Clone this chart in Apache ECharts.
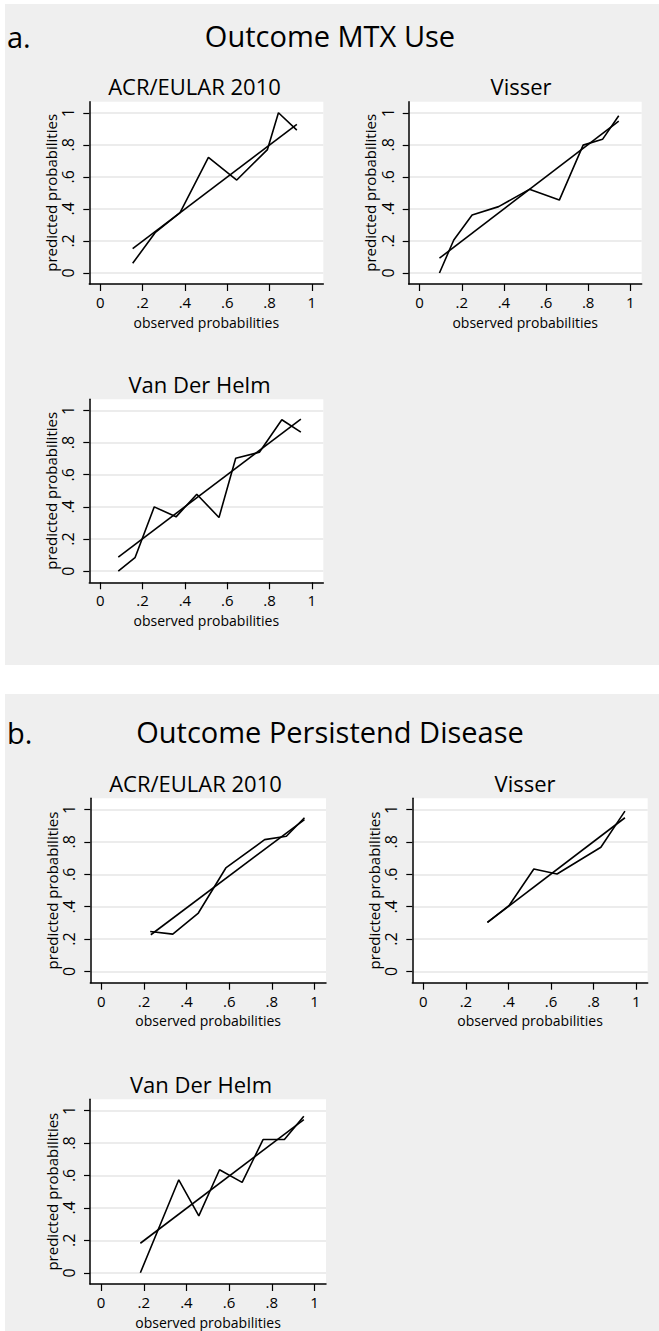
<!DOCTYPE html>
<html>
<head>
<meta charset="utf-8">
<script src="https://cdn.jsdelivr.net/npm/echarts@6/dist/echarts.min.js"></script>
<style>
  html, body { margin: 0; padding: 0; background: #ffffff; }
  #chart { width: 659px; height: 1331px; }
</style>
</head>
<body>
<div id="chart"></div>
<script>
// ---- calibration data: observed vs predicted probabilities per score ----

// Outcome MTX Use
const mtxAcrObserved   = [0.153, 0.259, 0.377, 0.511, 0.645, 0.790, 0.842, 0.929];
const mtxAcrPredicted  = [0.060, 0.251, 0.376, 0.722, 0.580, 0.770, 1.000, 0.892];
const mtxAcrFitObs     = [0.153, 0.929];
const mtxAcrFitPred    = [0.152, 0.927];

const mtxVisserObserved  = [0.094, 0.162, 0.249, 0.375, 0.521, 0.663, 0.776, 0.868, 0.945];
const mtxVisserPredicted = [0.000, 0.206, 0.362, 0.414, 0.522, 0.455, 0.798, 0.834, 0.981];
const mtxVisserFitObs    = [0.094, 0.945];
const mtxVisserFitPred   = [0.092, 0.948];

const mtxHelmObserved  = [0.085, 0.164, 0.255, 0.358, 0.456, 0.561, 0.640, 0.752, 0.858, 0.948];
const mtxHelmPredicted = [0.000, 0.084, 0.400, 0.338, 0.479, 0.334, 0.702, 0.740, 0.942, 0.865];
const mtxHelmFitObs    = [0.085, 0.948];
const mtxHelmFitPred   = [0.088, 0.946];

// Outcome Persistend Disease
const pdAcrObserved  = [0.229, 0.335, 0.455, 0.584, 0.766, 0.868, 0.953];
const pdAcrPredicted = [0.247, 0.231, 0.361, 0.639, 0.814, 0.835, 0.949];
const pdAcrFitObs    = [0.232, 0.953];
const pdAcrFitPred   = [0.227, 0.938];

const pdVisserObserved  = [0.301, 0.402, 0.519, 0.628, 0.834, 0.947];
const pdVisserPredicted = [0.303, 0.406, 0.633, 0.602, 0.767, 0.990];
const pdVisserFitObs    = [0.301, 0.947];
const pdVisserFitPred   = [0.303, 0.949];

const pdHelmObserved  = [0.184, 0.364, 0.458, 0.555, 0.661, 0.759, 0.859, 0.950];
const pdHelmPredicted = [0.000, 0.573, 0.351, 0.635, 0.557, 0.821, 0.821, 0.965];
const pdHelmFitObs    = [0.184, 0.950];
const pdHelmFitPred   = [0.182, 0.944];

// shared axis ticks and texts
const tickValues = [0, 0.2, 0.4, 0.6, 0.8, 1];
const xAxisTitle = 'observed probabilities';
const yAxisTitle = 'predicted probabilities';
const sectionLetters = ['a.', 'b.'];
const sectionTitles  = ['Outcome MTX Use', 'Outcome Persistend Disease'];
const panelTitles = ['ACR/EULAR 2010', 'Visser', 'Van Der Helm',
                     'ACR/EULAR 2010', 'Visser', 'Van Der Helm'];

const panelData = [
  [mtxAcrObserved, mtxAcrPredicted, mtxAcrFitObs, mtxAcrFitPred],
  [mtxVisserObserved, mtxVisserPredicted, mtxVisserFitObs, mtxVisserFitPred],
  [mtxHelmObserved, mtxHelmPredicted, mtxHelmFitObs, mtxHelmFitPred],
  [pdAcrObserved, pdAcrPredicted, pdAcrFitObs, pdAcrFitPred],
  [pdVisserObserved, pdVisserPredicted, pdVisserFitObs, pdVisserFitPred],
  [pdHelmObserved, pdHelmPredicted, pdHelmFitObs, pdHelmFitPred]
];

// ---- layout (pixels) ----
const FONT = '"Open Sans", "Noto Sans", sans-serif';
const gridBoxes = [
  { left: 89.3,  top: 101.7,  width: 234,   height: 182.3 },
  { left: 408.7, top: 101.7,  width: 233,   height: 182.3 },
  { left: 89.3,  top: 399.3,  width: 234,   height: 183 },
  { left: 90.3,  top: 798.3,  width: 235.7, height: 184.4 },
  { left: 412.3, top: 798.3,  width: 235.4, height: 184.4 },
  { left: 90,    top: 1099.3, width: 236,   height: 184.7 }
];
const panelTitlePos = [
  [194.5, 86], [521, 86], [199.5, 384],
  [195.5, 783], [525, 783], [201, 1084]
];
const sectionBoxes = [
  { x: 5, y: 4,   width: 654, height: 661 },
  { x: 5, y: 694, width: 654, height: 637 }
];
const sectionTitleY = [35, 731];

function tickText(v) {
  if (Math.abs(v) < 1e-9) return '0';
  if (Math.abs(v - 1) < 1e-9) return '1';
  return String(Math.round(v * 10) / 10).replace(/^0/, '');
}

const grid = [], xAxis = [], yAxis = [], series = [], graphic = [];

sectionBoxes.forEach(function (b, i) {
  graphic.push({
    type: 'rect', z: -100, silent: true,
    shape: { x: b.x, y: b.y, width: b.width, height: b.height },
    style: { fill: '#efefef' }
  });
  graphic.push({
    type: 'text', z: 10, x: 7, y: sectionTitleY[i] + 1,
    style: { text: sectionLetters[i], font: '29px ' + FONT, fill: '#000',
             textAlign: 'left', textVerticalAlign: 'middle' }
  });
  graphic.push({
    type: 'text', z: 10, x: 330, y: sectionTitleY[i],
    style: { text: sectionTitles[i], font: '29px ' + FONT, fill: '#000',
             textAlign: 'center', textVerticalAlign: 'middle' }
  });
});

gridBoxes.forEach(function (g, i) {
  grid.push({
    left: g.left, top: g.top, width: g.width, height: g.height,
    show: true, backgroundColor: '#ffffff', borderWidth: 0, containLabel: false
  });
  graphic.push({
    type: 'text', z: 10, x: panelTitlePos[i][0], y: panelTitlePos[i][1],
    style: { text: panelTitles[i], font: '22px ' + FONT, fill: '#000',
             textAlign: 'center', textVerticalAlign: 'middle' }
  });

  xAxis.push({
    gridIndex: i, type: 'value', min: -0.052, max: 1.054,
    name: xAxisTitle, nameLocation: 'middle', nameGap: 32,
    nameTextStyle: { fontFamily: FONT, fontSize: 14, lineHeight: 12, color: '#000' },
    axisLine: { show: true, onZero: false, lineStyle: { color: '#000', width: 1.5 } },
    axisTick: { show: true, length: 7, customValues: tickValues,
                lineStyle: { color: '#000', width: 1.2 } },
    axisLabel: { customValues: tickValues, formatter: tickText, margin: 12,
                 fontFamily: FONT, fontSize: 15, lineHeight: 12, color: '#000' },
    splitLine: { show: false }
  });
  yAxis.push({
    gridIndex: i, type: 'value', min: -0.069, max: 1.069,
    name: yAxisTitle, nameLocation: 'middle', nameGap: 31,
    nameTextStyle: { fontFamily: FONT, fontSize: 15, color: '#000' },
    axisLine: { show: true, onZero: false, lineStyle: { color: '#000', width: 1.5 } },
    axisTick: { show: true, length: 6, customValues: tickValues,
                lineStyle: { color: '#000', width: 1.2 } },
    axisLabel: { customValues: tickValues, formatter: tickText, margin: 13, rotate: 90,
                 fontFamily: FONT, fontSize: 16, color: '#000' },
    splitLine: { show: true, lineStyle: { color: '#e6e6e6', width: 1.5 } }
  });

  const d = panelData[i];
  series.push({
    type: 'line', xAxisIndex: i, yAxisIndex: i, symbol: 'none', silent: true,
    data: d[0].map(function (x, k) { return [x, d[1][k]]; }),
    lineStyle: { color: '#000', width: 1.6 }
  });
  series.push({
    type: 'line', xAxisIndex: i, yAxisIndex: i, symbol: 'none', silent: true,
    data: d[2].map(function (x, k) { return [x, d[3][k]]; }),
    lineStyle: { color: '#000', width: 1.6 }
  });
});

const chart = echarts.init(document.getElementById('chart'), null, { renderer: 'svg' });
chart.setOption({
  animation: false,
  backgroundColor: '#ffffff',
  grid: grid, xAxis: xAxis, yAxis: yAxis, series: series, graphic: graphic
});
</script>
</body>
</html>
